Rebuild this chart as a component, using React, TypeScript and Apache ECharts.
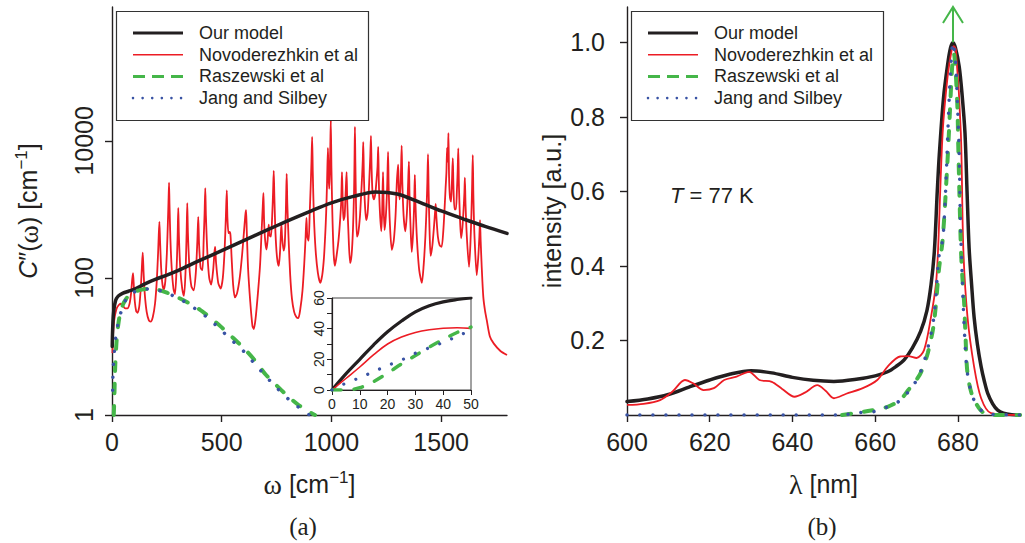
import React, { useEffect, useRef } from 'react';
import * as echarts from 'echarts';

const FONT = "'Liberation Sans', Arial, Helvetica, sans-serif";
const SERIF = "'Liberation Serif', 'Times New Roman', serif";
const INK = '#231f20';
const RED = '#ec1c24';
const GREEN = '#45b649';
const BLUE = '#3953a4';

const legendNames = ['Our model', 'Novoderezhkin et al', 'Raszewski et al', 'Jang and Silbey'];

// panel (a) ticks
const omegaTicks = [0, 500, 1000, 1500];
const specDensTicks = [1, 100, 10000];
const insetXTicks = [0, 10, 20, 30, 40, 50];
const insetYTickMarks = [0, 10, 20, 30, 40, 50, 60];
const insetYLabels = [0, 20, 40, 60];
// panel (b) ticks
const lambdaTicks = [600, 620, 640, 660, 680];
const intensityTicks = [0.2, 0.4, 0.6, 0.8, 1.0];
const intensityMax = 1.095;

// panel (a): spectral density C''(omega), omega in cm^-1
const ourModelA = [[1, 10], [3, 18], [6, 28], [10, 37], [15, 45], [20, 50], [30, 55], [50, 60], [75, 64], [100, 68], [150, 82], [200, 96], [250, 110], [300, 128], [400, 180], [500, 250], [600, 350], [700, 490], [800, 680], [900, 930], [1000, 1250], [1100, 1550], [1200, 1800], [1300, 1680], [1400, 1280], [1500, 950], [1600, 730], [1700, 565], [1800, 447]];

const novoA = [[2, 8], [5, 15], [10, 24], [20, 35], [30, 40], [40, 42], [50, 39], [60, 36], [70, 36], [80, 42], [87, 60], [92, 95], [96, 118], [100, 70], [104, 45], [110, 33], [116, 31], [124, 38], [131, 70], [136, 140], [140, 235], [144, 120], [149, 60], [158, 32], [168, 24], [176, 23], [186, 27], [196, 42], [204, 90], [210, 230], [213, 420], [216, 660], [219, 350], [224, 140], [230, 80], [236, 68], [243, 90], [250, 230], [255, 700], [258, 1500], [260, 2450], [262, 1200], [266, 380], [272, 140], [280, 70], [287, 58], [294, 130], [299, 400], [302, 1050], [305, 400], [311, 140], [320, 70], [328, 55], [335, 120], [340, 450], [343, 1240], [346, 450], [353, 140], [362, 75], [372, 66], [382, 120], [389, 350], [393, 780], [397, 300], [404, 140], [412, 130], [418, 380], [422, 900], [425, 2050], [428, 800], [435, 220], [443, 100], [452, 80], [461, 130], [467, 240], [470, 285], [474, 170], [484, 85], [495, 70], [505, 100], [513, 250], [519, 800], [523, 1900], [526, 750], [531, 450], [536, 470], [540, 420], [545, 200], [552, 80], [560, 52], [570, 60], [582, 100], [593, 220], [602, 500], [608, 850], [611, 980], [614, 500], [620, 140], [630, 45], [640, 20], [646, 18], [654, 25], [665, 60], [675, 160], [682, 500], [687, 1100], [690, 1740], [693, 700], [698, 350], [704, 260], [709, 350], [714, 600], [718, 420], [724, 400], [730, 800], [734, 1800], [737, 3650], [740, 1500], [745, 450], [752, 200], [760, 150], [766, 250], [770, 480], [772, 600], [775, 400], [782, 250], [787, 300], [792, 900], [794, 1800], [796, 3300], [799, 1200], [805, 350], [812, 110], [820, 50], [830, 32], [840, 27], [849, 26], [858, 35], [868, 65], [876, 160], [882, 380], [886, 750], [890, 400], [896, 350], [901, 900], [905, 2000], [909, 5000], [912, 11400], [915, 3500], [920, 800], [928, 250], [938, 120], [949, 85], [958, 110], [966, 200], [972, 450], [976, 900], [980, 2500], [984, 7900], [987, 3000], [990, 2000], [993, 4000], [995, 9000], [997, 20000], [1000, 4000], [1004, 900], [1010, 230], [1016, 150], [1025, 230], [1032, 350], [1038, 600], [1044, 1200], [1046, 2000], [1048, 3500], [1051, 1500], [1055, 700], [1060, 800], [1063, 1300], [1066, 2200], [1069, 3500], [1072, 1300], [1077, 500], [1085, 165], [1092, 220], [1098, 500], [1103, 1800], [1105, 5000], [1107, 16000], [1109, 5000], [1112, 1200], [1116, 400], [1122, 450], [1130, 800], [1136, 1800], [1140, 3200], [1143, 5500], [1145, 9600], [1148, 3000], [1152, 1300], [1158, 700], [1165, 900], [1170, 1800], [1174, 3500], [1177, 6000], [1180, 11800], [1183, 4000], [1187, 1800], [1193, 1400], [1200, 1700], [1205, 2600], [1210, 4200], [1213, 8200], [1216, 2500], [1221, 900], [1227, 480], [1231, 900], [1235, 3500], [1238, 1100], [1242, 500], [1248, 800], [1254, 2200], [1258, 6900], [1261, 2000], [1266, 650], [1275, 257], [1284, 350], [1292, 800], [1298, 2500], [1301, 3500], [1304, 4500], [1307, 2000], [1311, 1400], [1316, 2800], [1320, 8500], [1323, 2500], [1329, 800], [1337, 480], [1344, 900], [1349, 2200], [1353, 5000], [1356, 1500], [1361, 500], [1366, 240], [1372, 450], [1377, 1200], [1380, 3200], [1383, 1200], [1390, 350], [1400, 130], [1412, 85], [1420, 150], [1428, 400], [1434, 1200], [1437, 2500], [1440, 6400], [1443, 1800], [1447, 500], [1452, 210], [1460, 300], [1468, 600], [1472, 900], [1475, 1200], [1478, 800], [1485, 400], [1493, 300], [1502, 285], [1510, 500], [1516, 1100], [1520, 2000], [1524, 3500], [1527, 7900], [1529, 5000], [1531, 6000], [1533, 13000], [1536, 3000], [1540, 1500], [1545, 1300], [1549, 2500], [1553, 5600], [1556, 2200], [1561, 1000], [1567, 1000], [1572, 2000], [1575, 3500], [1578, 7800], [1581, 2200], [1586, 700], [1591, 380], [1597, 550], [1602, 1000], [1606, 1800], [1608, 2900], [1611, 1200], [1617, 400], [1627, 145], [1633, 300], [1638, 900], [1641, 2200], [1644, 6200], [1647, 1500], [1652, 400], [1662, 110], [1669, 200], [1674, 400], [1677, 700], [1680, 350], [1685, 140], [1692, 53], [1700, 33], [1708, 24], [1722, 14], [1740, 11], [1770, 8.6], [1800, 7.5]];

const raszA = [[8, 1.0], [10, 1.5], [13, 3.5], [15, 5.5], [20, 11], [25, 17], [30, 22.5], [35, 28], [40, 33], [50, 41], [60, 47], [75, 55], [100, 62], [130, 67], [160, 69], [190, 69], [220, 66], [250, 61], [300, 52], [350, 43], [400, 34.5], [450, 26], [500, 19], [550, 13.5], [600, 9.5], [650, 6.3], [700, 3.9], [750, 2.7], [800, 1.9], [850, 1.4], [900, 1.1], [925, 1.0]];

const jangA = [[3, 2.3], [5, 4.5], [10, 8], [15, 12], [20, 16], [25, 19.5], [30, 24], [35, 27.5], [40, 31], [45, 35], [50, 39], [60, 46], [75, 54], [100, 62], [130, 67], [160, 69], [190, 69], [220, 65], [250, 60], [300, 51], [350, 41], [400, 32], [450, 24], [500, 17], [550, 12], [600, 8.5], [650, 5.6], [700, 3.7], [750, 2.5], [800, 1.75], [850, 1.3], [900, 1.0]];

// inset (linear, 0-50 cm^-1)
const ourModelInset = [[0, 0], [5, 10.5], [10, 20], [15, 29.5], [20, 38], [25, 45], [30, 51], [35, 55], [40, 57.5], [45, 59], [50, 60]];
const novoInset = [[0, 0], [5, 7.5], [10, 15], [15, 23], [20, 30], [25, 34.5], [30, 37.5], [35, 39.3], [40, 40.3], [45, 40.6], [50, 40.2]];
const raszInset = [[0, 0], [5, 0], [10, 1.5], [15, 5.5], [20, 11], [25, 17], [30, 22.5], [35, 28], [40, 33], [45, 37.5], [50, 41]];
const jangInset = [[0, 0], [5, 4.5], [10, 8], [15, 12], [20, 16], [25, 19.5], [30, 24], [35, 27.5], [40, 31], [45, 35], [50, 39]];

// panel (b): absorption spectrum, lambda in nm
const ourModelB = [[600, 0.036], [605, 0.043], [610, 0.055], [615, 0.075], [620, 0.094], [625, 0.11], [630, 0.119], [635, 0.113], [640, 0.101], [645, 0.093], [650, 0.09], [655, 0.095], [660, 0.105], [663, 0.116], [665, 0.13], [667, 0.148], [669, 0.18], [671, 0.225], [672.5, 0.28], [673.5, 0.35], [674.3, 0.44], [675, 0.6], [675.5, 0.7], [676.5, 0.85], [677.5, 0.94], [678.2, 0.985], [678.8, 1.0], [679.4, 0.985], [680.3, 0.935], [681, 0.86], [681.7, 0.757], [682.2, 0.6], [682.7, 0.448], [683.3, 0.35], [683.9, 0.263], [684.7, 0.19], [685.6, 0.13], [686.4, 0.09], [687.2, 0.058], [688.4, 0.03], [689.6, 0.013], [691, 0.005], [693, 0.001], [695, 0]];

const novoB = [[600, 0.027], [604, 0.03], [608, 0.04], [611, 0.063], [614, 0.094], [616, 0.085], [618.5, 0.067], [621, 0.072], [623.5, 0.094], [626.5, 0.103], [629.5, 0.116], [632, 0.094], [635, 0.089], [637.5, 0.07], [640.5, 0.049], [643, 0.06], [646, 0.08], [648, 0.065], [650, 0.045], [653, 0.057], [657, 0.072], [660.5, 0.094], [663, 0.13], [666, 0.157], [668, 0.158], [670, 0.153], [671.8, 0.174], [673.5, 0.264], [674.7, 0.354], [675.2, 0.445], [676.3, 0.757], [677.5, 0.908], [678.5, 0.98], [679, 0.99], [679.5, 0.98], [680.7, 0.757], [681.3, 0.445], [682.3, 0.264], [683.9, 0.13], [685.6, 0.045], [688, 0.005], [695, 0]];

const raszB = [[652, 0], [655, 0.005], [659, 0.012], [663, 0.022], [666, 0.04], [668, 0.067], [670, 0.095], [671, 0.113], [672.7, 0.166], [674.2, 0.247], [675.4, 0.39], [676.3, 0.47], [677.4, 0.666], [678, 0.8], [678.6, 0.935], [679, 0.97], [679.8, 0.846], [680.1, 0.711], [680.6, 0.49], [680.9, 0.4], [681.5, 0.3], [681.8, 0.22], [682.3, 0.113], [683.5, 0.05], [685, 0.02], [686.3, 0.005], [688, 0], [695, 0]];

const jangB = [[600, 0], [652, 0], [655.6, 0.006], [659.7, 0.009], [663, 0.022], [666.2, 0.04], [668.5, 0.07], [670.5, 0.103], [672.5, 0.17], [674.2, 0.264], [675.4, 0.425], [676.3, 0.47], [676.8, 0.55], [677.3, 0.68], [677.7, 0.8], [678.2, 0.92], [678.8, 1.0], [679.4, 0.95], [679.9, 0.83], [680.3, 0.7], [680.6, 0.52], [681, 0.38], [681.5, 0.24], [682.2, 0.12], [683.5, 0.05], [685.6, 0.013], [688, 0.002], [695, 0]];

// arrow marking the Raszewski peak going off-scale
const arrowLambda = 678.8;
const arrowFrom = 1.0;

const styles = {
  black: { color: INK, width: 3.5, type: 'solid' as any, cap: 'round' as any },
  red: { color: RED, width: 1.8, type: 'solid' as any },
  green: { color: GREEN, width: 4, type: [9, 13] as any, cap: 'round' as any },
  blue: { color: BLUE, width: 3.5, type: [0.01, 13] as any, cap: 'round' as any },
};

function line(name: string, data: number[][], idx: number, st: any, z: number, smooth: number | boolean = false) {
  return {
    type: 'line', name, data, xAxisIndex: idx, yAxisIndex: idx,
    showSymbol: false, symbol: 'none', smooth, z, clip: true,
    lineStyle: st, emphasis: { disabled: true }, silent: true,
  };
}

const axisLineStyle = { color: INK, width: 1.4 };
const tickStyle = { color: INK, width: 1.4 };
const labelBase = { fontSize: 25, fontFamily: FONT, color: INK };
const plain = (v: number) => String(Math.round(v));

function legendGraphic(x0: number) {
  const els: any[] = [{
    type: 'rect', z: 100, shape: { x: x0 + 0.5, y: 11.5, width: 252, height: 109 },
    style: { fill: '#fff', stroke: '#333', lineWidth: 1.2 },
  }];
  const sty = [
    { stroke: INK, lineWidth: 3 },
    { stroke: RED, lineWidth: 1.6 },
    { stroke: GREEN, lineWidth: 3, lineDash: [12, 7] },
    { stroke: BLUE, lineWidth: 2.6, lineDash: [0.01, 9.6], lineCap: 'round' },
  ];
  legendNames.forEach((n, i) => {
    const y = 33 + i * 21.7;
    els.push({ type: 'line', z: 101, shape: { x1: x0 + 17, y1: y, x2: x0 + 67, y2: y }, style: sty[i] });
    els.push({
      type: 'text', z: 101, x: x0 + 83, y,
      style: { text: n, fontSize: 18, fontFamily: FONT, fill: INK, verticalAlign: 'middle', align: 'left' },
    });
  });
  return els;
}

const option: any = {
  animation: false,
  backgroundColor: '#fff',
  grid: [
    { left: 112, top: 7, width: 395, height: 408, outerBoundsMode: 'none' },
    { left: 332, top: 298, width: 139, height: 92, show: true, borderColor: '#444', borderWidth: 1, backgroundColor: '#fff', z: 5, outerBoundsMode: 'none' },
    { left: 627, top: 7, width: 393, height: 408, outerBoundsMode: 'none' },
  ],
  xAxis: [
    {
      gridIndex: 0, type: 'value', min: 0, max: 1800,
      axisLine: { show: true, onZero: false, lineStyle: axisLineStyle },
      axisTick: { show: true, length: 7, lineStyle: tickStyle, customValues: omegaTicks },
      axisLabel: { ...labelBase, margin: 14, customValues: omegaTicks, formatter: plain },
      splitLine: { show: false },
      name: '{w|ω} [cm{s|−1}]', nameLocation: 'middle', nameGap: 54,
      nameTextStyle: { ...labelBase, lineHeight: 30, rich: { w: { fontFamily: SERIF, fontSize: 28, color: INK }, s: { fontSize: 17, lineHeight: 12, verticalAlign: 'top', color: INK, fontFamily: FONT } } },
    },
    {
      gridIndex: 1, type: 'value', min: 0, max: 50, interval: 10,
      axisLine: { show: true, onZero: false, lineStyle: { color: INK, width: 1.2 } },
      axisTick: { show: true, length: 5, lineStyle: { color: INK, width: 1 }, customValues: insetXTicks },
      axisLabel: { fontSize: 14, fontFamily: FONT, color: INK, margin: 7, customValues: insetXTicks, formatter: plain },
      splitLine: { show: false }, z: 6,
    },
    {
      gridIndex: 2, type: 'value', min: 600, max: 695,
      axisLine: { show: true, onZero: false, lineStyle: axisLineStyle },
      axisTick: { show: true, length: 7, lineStyle: tickStyle, customValues: lambdaTicks },
      axisLabel: { ...labelBase, margin: 14, customValues: lambdaTicks, formatter: plain },
      splitLine: { show: false },
      name: '{l|λ} [nm]', nameLocation: 'middle', nameGap: 54,
      nameTextStyle: { ...labelBase, lineHeight: 30, rich: { l: { fontFamily: SERIF, fontSize: 28, color: INK } } },
    },
  ],
  yAxis: [
    {
      gridIndex: 0, type: 'log', logBase: 10, min: 1, max: 900000,
      axisLine: { show: true, onZero: false, lineStyle: axisLineStyle },
      axisTick: { show: true, length: 7, lineStyle: tickStyle, customValues: specDensTicks },
      axisLabel: { ...labelBase, rotate: 90, margin: 16, customValues: specDensTicks, formatter: plain },
      splitLine: { show: false }, minorTick: { show: false },
      name: '{i|C}″({w|ω}) [cm{s|−1}]', nameLocation: 'middle', nameRotate: 90, nameGap: 69,
      nameTextStyle: { ...labelBase, lineHeight: 30, rich: { i: { fontStyle: 'italic', fontFamily: FONT, fontSize: 25, color: INK }, w: { fontFamily: SERIF, fontSize: 28, color: INK }, s: { fontSize: 17, lineHeight: 12, verticalAlign: 'top', color: INK, fontFamily: FONT } } },
    },
    {
      gridIndex: 1, type: 'value', min: 0, max: 60, interval: 10,
      axisLine: { show: true, onZero: false, lineStyle: { color: INK, width: 1.2 } },
      axisTick: { show: true, length: 5, lineStyle: { color: INK, width: 1 }, customValues: insetYTickMarks },
      axisLabel: { fontSize: 14, fontFamily: FONT, color: INK, rotate: 90, margin: 6, customValues: insetYLabels, formatter: plain },
      splitLine: { show: false }, z: 6,
    },
    {
      gridIndex: 2, type: 'value', min: 0, max: intensityMax,
      axisLine: { show: true, onZero: false, lineStyle: axisLineStyle },
      axisTick: { show: true, length: 7, lineStyle: tickStyle, customValues: intensityTicks },
      axisLabel: { ...labelBase, margin: 22, customValues: intensityTicks, formatter: (v: number) => v.toFixed(1) },
      splitLine: { show: false },
      name: 'intensity [a.u.]', nameLocation: 'middle', nameRotate: 90, nameGap: 63,
      nameTextStyle: { ...labelBase },
    },
  ],
  series: [
    line(legendNames[1], novoA, 0, styles.red, 2, 0.25),
    line(legendNames[0], ourModelA, 0, styles.black, 3, 0.3),
    line(legendNames[2], raszA, 0, styles.green, 4, 0.3),
    line(legendNames[3], jangA, 0, styles.blue, 5, 0.3),

    line(legendNames[0], ourModelInset, 1, { ...styles.black, width: 3.2 }, 7, 0.4),
    line(legendNames[1], novoInset, 1, { ...styles.red, width: 1.6 }, 8, 0.4),
    line(legendNames[2], raszInset, 1, { ...styles.green, width: 3.5 }, 9, 0.3),
    line(legendNames[3], jangInset, 1, { ...styles.blue, width: 3.2 }, 10, 0.3),

    line(legendNames[0], ourModelB, 2, styles.black, 2, 0.3),
    line(legendNames[1], novoB, 2, styles.red, 3, 0.3),
    line(legendNames[2], raszB, 2, styles.green, 4, 0.3),
    line(legendNames[3], jangB, 2, styles.blue, 5, 0.3),
  ],
};

export default function App() {
  const ref = useRef<HTMLDivElement>(null);
  useEffect(() => {
    const el = ref.current as HTMLDivElement;
    const chart = echarts.init(el, null, { renderer: 'svg' });
    chart.setOption(option);
    const base = chart.convertToPixel({ xAxisIndex: 2, yAxisIndex: 2 }, [arrowLambda, arrowFrom]) as number[];
    const tip = chart.convertToPixel({ xAxisIndex: 2, yAxisIndex: 2 }, [arrowLambda, intensityMax]) as number[];
    const elements: any[] = [
      ...legendGraphic(116),
      ...legendGraphic(631),
      {
        type: 'line', z: 50, shape: { x1: base[0], y1: base[1], x2: tip[0], y2: tip[1] },
        style: { stroke: GREEN, lineWidth: 2 },
      },
      {
        type: 'polyline', z: 50,
        shape: { points: [[tip[0] - 10, tip[1] + 16], [tip[0], tip[1]], [tip[0] + 10, tip[1] + 16]] },
        style: { stroke: GREEN, lineWidth: 2, fill: 'none' },
      },
      {
        type: 'text', z: 50, x: 670, y: 195,
        style: {
          text: '{i|T} = 77 K', fontSize: 22, fontFamily: FONT, fill: INK, verticalAlign: 'middle', align: 'left',
          rich: { i: { fontStyle: 'italic', fontSize: 22, fontFamily: FONT, fill: INK } },
        },
      },
      {
        type: 'text', z: 50, x: 303, y: 526,
        style: { text: '(a)', fontSize: 25, fontFamily: SERIF, fill: INK, align: 'center', verticalAlign: 'middle' },
      },
      {
        type: 'text', z: 50, x: 822, y: 526,
        style: { text: '(b)', fontSize: 25, fontFamily: SERIF, fill: INK, align: 'center', verticalAlign: 'middle' },
      },
    ];
    chart.setOption({ graphic: { elements } });
    return () => chart.dispose();
  }, []);
  return <div ref={ref} style={{ position: 'fixed', left: 0, top: 0, width: 1025, height: 543, background: '#fff' }} />;
}
